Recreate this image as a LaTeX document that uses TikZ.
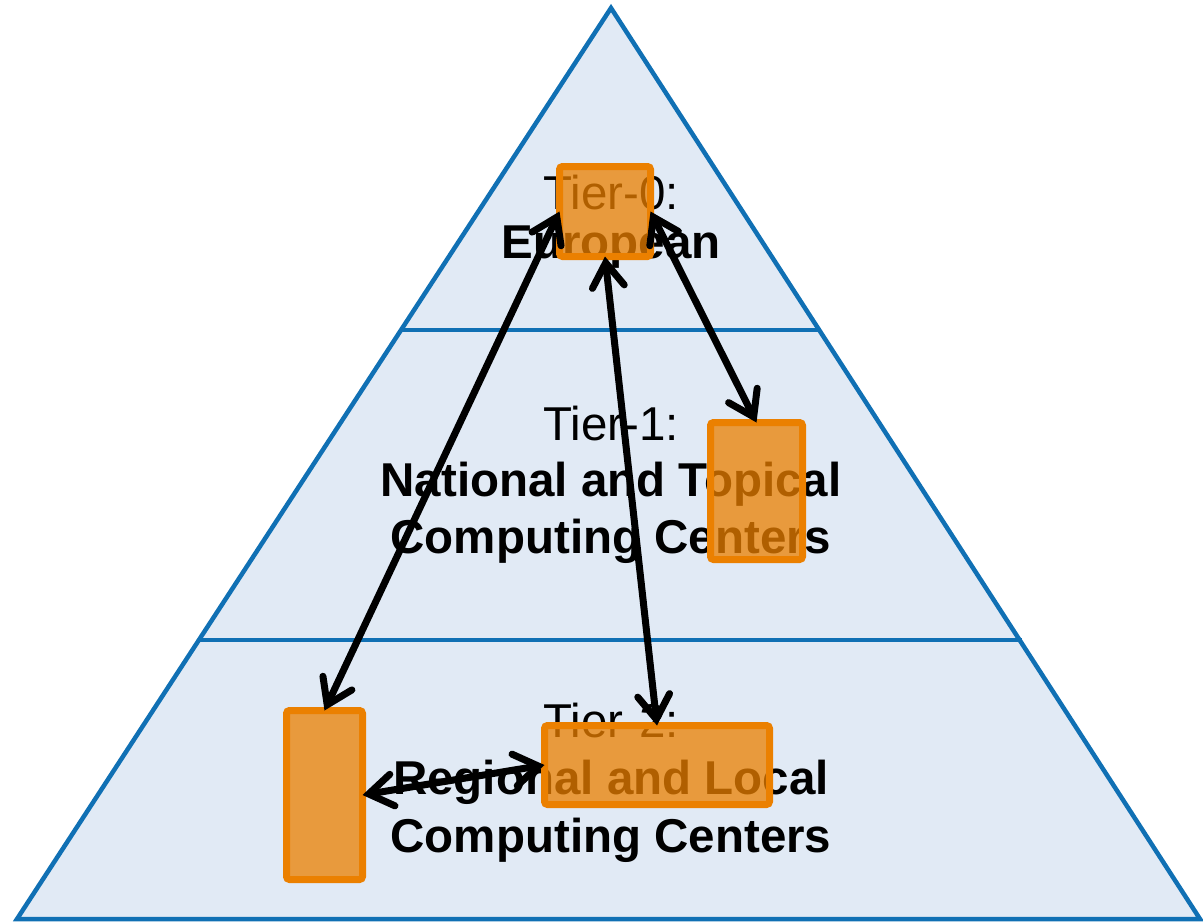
\documentclass[tikz,border=0pt]{standalone}
\usepackage{fontspec}
\setmainfont{Liberation Sans}
\usetikzlibrary{arrows.meta}
\definecolor{pyrblue}{RGB}{16,112,180}
\definecolor{pyrfill}{RGB}{225,234,245}
\definecolor{boxorange}{RGB}{235,128,0}
\tikzset{
  lbl/.style={anchor=base, inner sep=0pt, font=\fontsize{47.5}{57}\selectfont},
  lblb/.style={lbl, font=\fontsize{47.5}{57}\selectfont\bfseries},
  obox/.style={draw=boxorange, fill=boxorange, fill opacity=0.75, line width=7pt,
    rounded corners=3pt, inner sep=0pt, outer sep=0pt},
  link/.style={black, line width=7pt, line cap=round,
    {Straight Barb[length=24pt,width=32pt,line cap=round]}-{Straight Barb[length=24pt,width=32pt,line cap=round]}},
  tierline/.style={draw=pyrblue, line width=4.5pt}
}
\begin{document}
\begin{tikzpicture}[x=1pt,y=-1pt]
\useasboundingbox (0,0) rectangle (1203,922);
% pyramid
\coordinate (apex) at (611,8);
\coordinate (bl) at (17,919);
\coordinate (br) at (1200,919);
\fill[pyrfill] (apex) -- (bl) -- (br) -- cycle;
\coordinate (l1) at (401,330);
\coordinate (r1) at (821,330);
\coordinate (l2) at (200,640);
\coordinate (r2) at (1022,640);
\draw[tierline] (l1) -- (r1);
\draw[tierline] (l2) -- (r2);
\draw[tierline, line join=miter] (apex) -- (bl) -- (br) -- cycle;
% texts
\node[lbl]  (t0a) at (611,209) {Tier-0:};
\node[lblb] (t0b) at (611,258) {European};
\node[lbl]  (t1a) at (611,440) {Tier-1:};
\node[lblb] (t1b) at (611,496) {National and Topical};
\node[lblb] (t1c) at (611,553) {Computing Centers};
\node[lbl]  (t2a) at (611,737) {Tier-2:};
\node[lblb] (t2b) at (611,794) {Regional and Local};
\node[lblb] (t2c) at (611,852) {Computing Centers};
% boxes
\node[obox, minimum width=91pt, minimum height=90pt] (b0) at (605,211.5) {};
\node[obox, minimum width=92pt, minimum height=137pt] (b1) at (756.5,491) {};
\node[obox, minimum width=76pt, minimum height=169pt] (bL) at (324.5,795) {};
\node[obox, minimum width=225pt, minimum height=79pt] (b2) at (657,765) {};
% links
\draw[link] (b0.west) -- (bL.north);
\draw[link] (b0.south) -- (b2.north);
\draw[link] (b0.east) -- (b1.north);
\draw[link] (bL.east) -- (b2.west);
\end{tikzpicture}
\end{document}
